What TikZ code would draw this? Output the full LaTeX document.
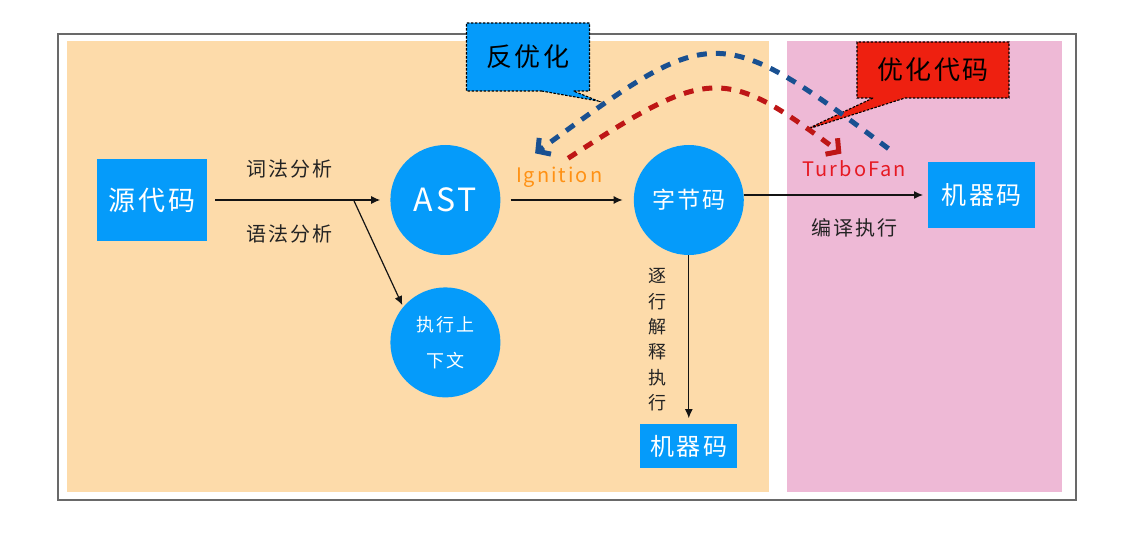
\documentclass[tikz,border=0pt]{standalone}
\usepackage{fontspec}
\setmainfont{Noto Sans CJK SC}[LetterSpace=10]
\usetikzlibrary{shapes.callouts, arrows.meta, positioning}
\definecolor{zonecolor}{RGB}{253,219,170}
\definecolor{jitcolor}{RGB}{238,185,214}
\definecolor{nodecolor}{RGB}{5,155,250}
\definecolor{framecolor}{RGB}{105,105,105}
\definecolor{textcolor}{RGB}{35,35,35}
\definecolor{igncolor}{RGB}{255,145,20}
\definecolor{turbocolor}{RGB}{230,25,35}
\definecolor{deoptcolor}{RGB}{25,80,145}
\definecolor{optcolor}{RGB}{190,22,22}
\definecolor{calloutred}{RGB}{238,32,16}
\definecolor{arrowcolor}{RGB}{20,20,20}
\tikzset{
    % Base styles
    basenode/.style={fill=nodecolor, text=white, inner sep=0pt, align=center},
    boxnode/.style={basenode, rectangle},
    roundnode/.style={basenode, circle, minimum size=110pt},
    % Labels
    steplabel/.style={font=\fontsize{20}{24}\selectfont, text=textcolor, inner sep=2pt, align=center},
    enginelabel/.style={font=\fontsize{20}{24}\selectfont, inner sep=2pt},
    % Callouts
    notebox/.style={
        rectangle callout, draw=black, line width=1.1pt,
        dash pattern=on 2.5pt off 1.5pt, callout pointer width=32pt,
        font=\fontsize{26}{30}\selectfont, text=black, inner sep=0pt
    },
    % Arrows
    myarrow/.style={-{Latex[length=9pt,width=8pt]}, line width=1.2pt, arrowcolor},
    dashedarrow/.style={-{Straight Barb[length=9pt,width=20pt]}, line width=5pt, dash pattern=on 10pt off 9pt},
}
\begin{document}
\begin{tikzpicture}[x=1pt, y=1pt]
\useasboundingbox (0,0) rectangle (1123,544);

% ===== Zones =====
\draw[framecolor, line width=1.5pt] (58,44) rectangle (1076,510);
\fill[zonecolor] (67,52) rectangle (769,503);
\fill[jitcolor] (787,52) rectangle (1062,503);

% ===== Parser =====
\node (src) [boxnode, minimum width=110pt, minimum height=82pt, font=\fontsize{27}{30}\selectfont] at (152,344) {源代码};
\node (ast) [roundnode, right=183pt of src, font=\fontsize{32}{36}\selectfont] {AST};
\node (ctx) [roundnode, below=32pt of ast, font=\fontsize{18}{36}\selectfont] {执行上\\下文};

\draw[myarrow, shorten <=8pt, shorten >=10pt] (src) --
    node[steplabel, above=19pt, pos=0.45] {词法分析}
    node[steplabel, below=22pt, pos=0.45] {语法分析}
    coordinate[pos=0.8] (fork) (ast);
\draw[myarrow, shorten >=2pt] (fork) -- (ctx.140);

% ===== Interpreter =====
\node (byte) [roundnode, right=133pt of ast, font=\fontsize{23}{26}\selectfont] {字节码};
\draw[myarrow, shorten <=10pt, shorten >=11pt] (ast) --
    node[enginelabel, text=igncolor, above=10pt, xshift=-8pt] (ign) {Ignition} (byte);

\node (mc1) [boxnode, below=169pt of byte, minimum width=97pt, minimum height=44pt, font=\fontsize{24}{28}\selectfont] {机器码};
\draw[myarrow, shorten >=6pt] (byte) --
    node[steplabel, left=20pt, font=\fontsize{18}{25.4}\selectfont] {逐\\行\\解\\释\\执\\行} (mc1);

% ===== Compiler =====
\node (mc2) [boxnode, right=184pt of byte, yshift=5pt, minimum width=107pt, minimum height=66pt, font=\fontsize{25}{28}\selectfont] {机器码};
\draw[myarrow, shorten >=5pt] (byte.east |- mc2) --
    node[enginelabel, text=turbocolor, above=16pt, pos=0.6] (turbo) {TurboFan}
    node[steplabel, below=21pt, pos=0.6] {编译执行} (mc2);

% ===== Callouts =====
\node (deopt) [notebox, fill=nodecolor, minimum width=123pt, minimum height=68pt,
    callout absolute pointer={(598,443)}] at (528,487) {反优化};
\node (opt) [notebox, fill=calloutred, minimum width=152pt, minimum height=56pt,
    callout absolute pointer={(805,414)}] at (933,474) {优化代码};

% optimize / deoptimize loops
\draw[dashedarrow, optcolor] ([xshift=9pt, yshift=6pt]ign.north)
    .. controls +(141,92) and +(-117,88) .. ([xshift=-13pt, yshift=4pt]turbo.north);
\draw[dashedarrow, deoptcolor] ([xshift=34pt, yshift=9pt]turbo.north)
    .. controls +(-173,130) and +(177,129) .. ([xshift=-24pt, yshift=11pt]ign.north);

\end{tikzpicture}
\end{document}
